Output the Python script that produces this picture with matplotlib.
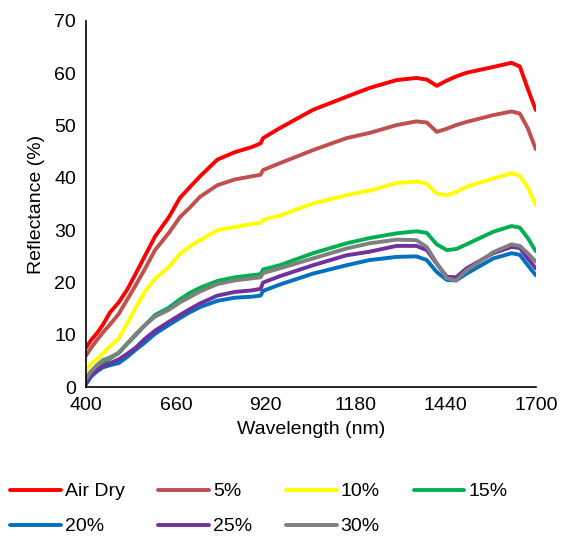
import matplotlib
matplotlib.use("Agg")
import matplotlib.pyplot as plt

plt.rcParams["font.family"] = ["Liberation Sans", "DejaVu Sans"]

# wavelength grid (nm) and reflectance (%)
wavelength = [400, 415, 432, 450, 470, 495, 520, 545, 570, 600, 640, 672, 700, 730,
              780, 830, 880, 905, 912, 960, 1056, 1153, 1220, 1298, 1355, 1385,
              1414, 1443, 1470, 1500, 1577, 1630, 1654, 1677, 1700]

air_dry = [7.5, 9, 10.3, 12, 14.3, 16.2, 18.7, 21.8, 25, 28.8, 32.5, 36.2, 38.2, 40.3,
           43.5, 44.9, 45.9, 46.6, 47.6, 49.5, 53, 55.5, 57.2, 58.7, 59.1, 58.8,
           57.6, 58.6, 59.4, 60.1, 61.2, 62, 61.3, 57, 53]
m05 = [6, 7.5, 9, 10.5, 12, 14, 16.8, 19.6, 22.5, 26.2, 29.5, 32.5, 34.3, 36.4,
       38.6, 39.7, 40.3, 40.6, 41.5, 42.8, 45.3, 47.6, 48.6, 50.1, 50.8, 50.6,
       48.8, 49.4, 50.1, 50.7, 52, 52.7, 52.3, 49.5, 45.5]
m10 = [3, 4.5, 5.3, 6.5, 7.8, 9.3, 12.3, 15.3, 18.2, 20.7, 23, 25.5, 26.9, 28.1,
       30, 30.6, 31.2, 31.4, 32, 32.8, 35.1, 36.7, 37.6, 39, 39.3, 38.9,
       37, 36.7, 37.3, 38.3, 39.9, 40.9, 40.4, 38.2, 34.8]
m15 = [1.5, 3, 4, 4.5, 5.5, 6.5, 8.3, 10, 11.8, 13.8, 15.2, 16.8, 18, 19,
       20.3, 21, 21.4, 21.6, 22.5, 23.3, 25.6, 27.5, 28.5, 29.4, 29.8, 29.5,
       27.3, 26.2, 26.4, 27.3, 29.7, 30.8, 30.5, 28.5, 26]
m20 = [0.5, 2, 3, 3.8, 4.2, 4.6, 5.8, 7.2, 8.5, 10.2, 11.9, 13.2, 14.3, 15.3,
       16.5, 17.1, 17.3, 17.5, 18.4, 19.6, 21.7, 23.3, 24.3, 24.9, 25, 24.3,
       22, 20.5, 20.4, 21.7, 24.6, 25.6, 25.3, 23.3, 21.4]
m25 = [0.8, 2.3, 3.3, 4, 4.6, 5.3, 6.4, 7.6, 9.2, 10.8, 12.5, 13.8, 14.9, 16,
       17.5, 18.2, 18.5, 18.8, 20, 21.2, 23.3, 25.2, 25.9, 27, 27, 26.2,
       23.6, 21.1, 21, 22.7, 25.6, 26.8, 26.6, 24.6, 22.7]
m30 = [1.5, 3, 4.2, 5.2, 5.7, 6.6, 8.4, 10.2, 11.8, 13.5, 14.8, 16.2, 17.2, 18.3,
       19.7, 20.4, 20.8, 21, 21.8, 22.7, 24.6, 26.5, 27.5, 28.2, 28.1, 26.8,
       23.7, 20.8, 20.4, 22.3, 25.8, 27.3, 27, 25.6, 24]

labels = ["Air Dry", "5%", "10%", "15%", "20%", "25%", "30%"]
colors = ["#FF0000", "#C0504D", "#FFFF00", "#00B050", "#0070C0", "#7030A0", "#808080"]
series = [air_dry, m05, m10, m15, m20, m25, m30]

fig = plt.figure(figsize=(5.61, 5.37), dpi=100)
ax = fig.add_axes([0.153, 0.279, 0.802, 0.682])

lines = []
for vals, lab, col in zip(series, labels, colors):
    ln, = ax.plot(wavelength, vals, color=col, lw=2.8, label=lab,
                  solid_joinstyle="round", solid_capstyle="round")
    lines.append(ln)

ax.set_xlim(400, 1700)
ax.set_ylim(0, 70)
ax.set_xticks([400, 660, 920, 1180, 1440, 1700])
ax.set_yticks(range(0, 71, 10))
ax.tick_params(length=0, labelsize=14, pad=7)
for s in ["top", "right"]:
    ax.spines[s].set_visible(False)
for s in ["left", "bottom"]:
    ax.spines[s].set_linewidth(1.2)
ax.set_xlabel("Wavelength (nm)", fontsize=14, labelpad=5)
ax.set_ylabel("Reflectance (%)", fontsize=14, labelpad=7)

# row-major order for a 4-column legend
order = [0, 4, 1, 5, 2, 6, 3]
fig.legend([lines[i] for i in order], [labels[i] for i in order],
           ncol=4, loc="upper left", bbox_to_anchor=(0.018, 0.101),
           frameon=False, fontsize=14, handlelength=2.6, handletextpad=0.2,
           columnspacing=1.75, labelspacing=0.9, borderaxespad=0,
           borderpad=0)

fig.savefig("out.png", dpi=100)
